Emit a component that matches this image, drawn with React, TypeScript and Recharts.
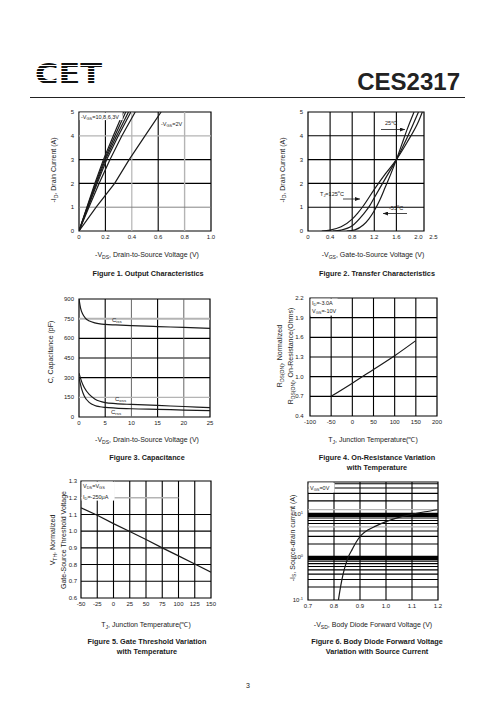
import React from "react"
import { LineChart, Line, XAxis, YAxis, ReferenceLine, ReferenceArea } from "recharts"

const FONT = "'Liberation Sans', Arial, Helvetica, sans-serif"
const INK = "#1a1a1a"
const GRAY = "#b4b4b4"

// Figure 1 - output characteristics (-VDS in V, -ID in A)
const fig1XTicks = [0, 0.2, 0.4, 0.6, 0.8, 1.0]
const fig1YTicks = [0, 1, 2, 3, 4, 5]
const fig1Vgs10 = [
  { x: 0, y: 0 }, { x: 0.06, y: 1 }, { x: 0.12, y: 2 }, { x: 0.185, y: 3 }, { x: 0.26, y: 4 }, { x: 0.337, y: 5 },
]
const fig1Vgs8 = [
  { x: 0, y: 0 }, { x: 0.062, y: 1 }, { x: 0.126, y: 2 }, { x: 0.193, y: 3 }, { x: 0.272, y: 4 }, { x: 0.354, y: 5 },
]
const fig1Vgs6 = [
  { x: 0, y: 0 }, { x: 0.065, y: 1 }, { x: 0.132, y: 2 }, { x: 0.2, y: 3 }, { x: 0.285, y: 4 }, { x: 0.375, y: 5 },
]
const fig1Vgs4 = [
  { x: 0, y: 0 }, { x: 0.068, y: 1 }, { x: 0.138, y: 2 }, { x: 0.21, y: 3 }, { x: 0.298, y: 4 }, { x: 0.393, y: 5 },
]
const fig1Vgs3 = [
  { x: 0, y: 0 }, { x: 0.075, y: 1 }, { x: 0.152, y: 2 }, { x: 0.235, y: 3 }, { x: 0.325, y: 4 }, { x: 0.426, y: 5 },
]
const fig1Vgs2 = [
  { x: 0, y: 0 }, { x: 0.13, y: 1 }, { x: 0.27, y: 2 }, { x: 0.38, y: 3 }, { x: 0.5, y: 4 }, { x: 0.622, y: 5 },
]

// Figure 2 - transfer characteristics (-VGS in V, -ID in A)
const fig2XTicks = [0, 0.4, 0.8, 1.2, 1.6, 2.0]
const fig2YTicks = [0, 1, 2, 3, 4, 5]
const fig2T125 = [
  { x: 0.25, y: 0 }, { x: 0.4, y: 0.04 }, { x: 0.6, y: 0.18 }, { x: 0.8, y: 0.5 }, { x: 0.9, y: 0.75 },
  { x: 1.0, y: 1.05 }, { x: 1.2, y: 1.75 }, { x: 1.4, y: 2.4 }, { x: 1.6, y: 3.0 }, { x: 1.8, y: 3.75 },
  { x: 2.0, y: 4.6 }, { x: 2.07, y: 5.0 },
]
const fig2T25 = [
  { x: 0.45, y: 0 }, { x: 0.6, y: 0.04 }, { x: 0.8, y: 0.22 }, { x: 1.0, y: 0.7 }, { x: 1.1, y: 1.0 },
  { x: 1.2, y: 1.4 }, { x: 1.4, y: 2.2 }, { x: 1.6, y: 3.0 }, { x: 1.8, y: 3.95 }, { x: 2.0, y: 5.0 },
]
const fig2Tm55 = [
  { x: 0.7, y: 0 }, { x: 0.85, y: 0.05 }, { x: 1.0, y: 0.25 }, { x: 1.1, y: 0.5 }, { x: 1.2, y: 0.85 },
  { x: 1.3, y: 1.3 }, { x: 1.4, y: 1.85 }, { x: 1.5, y: 2.4 }, { x: 1.6, y: 3.0 }, { x: 1.7, y: 3.65 },
  { x: 1.8, y: 4.3 }, { x: 1.92, y: 5.0 },
]

// Figure 3 - capacitance (-VDS in V, C in pF)
const fig3XTicks = [0, 5, 10, 15, 20, 25]
const fig3YTicks = [0, 150, 300, 450, 600, 750, 900]
const fig3Ciss = [
  { x: 0, y: 900 }, { x: 0.3, y: 830 }, { x: 0.7, y: 785 }, { x: 1.2, y: 755 }, { x: 2, y: 732 }, { x: 3, y: 718 },
  { x: 4, y: 710 }, { x: 5, y: 706 }, { x: 7, y: 702 }, { x: 10, y: 697 }, { x: 15, y: 690 }, { x: 20, y: 683 },
  { x: 25, y: 676 },
]
const fig3Coss = [
  { x: 0, y: 335 }, { x: 0.5, y: 270 }, { x: 1, y: 225 }, { x: 2, y: 170 }, { x: 3, y: 138 }, { x: 4, y: 120 },
  { x: 5, y: 110 }, { x: 7, y: 102 }, { x: 10, y: 96 }, { x: 15, y: 88 }, { x: 20, y: 80 }, { x: 25, y: 72 },
]
const fig3Crss = [
  { x: 0, y: 300 }, { x: 0.5, y: 215 }, { x: 1, y: 160 }, { x: 2, y: 110 }, { x: 3, y: 88 }, { x: 4, y: 78 },
  { x: 5, y: 73 }, { x: 7, y: 68 }, { x: 10, y: 63 }, { x: 15, y: 58 }, { x: 20, y: 53 }, { x: 25, y: 48 },
]

// Figure 4 - normalized on-resistance vs junction temperature
const fig4XTicks = [-100, -50, 0, 50, 100, 150, 200]
const fig4YTicks = [0.4, 0.7, 1.0, 1.3, 1.6, 1.9, 2.2]
const fig4Rds = [
  { x: -50, y: 0.7 }, { x: 0, y: 0.9 }, { x: 50, y: 1.11 }, { x: 100, y: 1.32 }, { x: 150, y: 1.55 },
]

// Figure 5 - normalized gate threshold vs junction temperature
const fig5XTicks = [-50, -25, 0, 25, 50, 75, 100, 125, 150]
const fig5YTicks = [0.6, 0.7, 0.8, 0.9, 1.0, 1.1, 1.2, 1.3]
const fig5Vth = [
  { x: -50, y: 1.14 }, { x: -25, y: 1.095 }, { x: 0, y: 1.045 }, { x: 25, y: 0.998 }, { x: 50, y: 0.95 },
  { x: 75, y: 0.9 }, { x: 100, y: 0.852 }, { x: 125, y: 0.803 }, { x: 150, y: 0.755 },
]

// Figure 6 - body diode forward voltage (-VSD in V, -IS in A, log)
const fig6XTicks = [0.7, 0.8, 0.9, 1.0, 1.1, 1.2]
const fig6YTicks = [0.1, 1, 10]
const fig6MinorY = [0.2, 0.3, 0.4, 0.5, 0.6, 0.7, 0.8, 2, 3, 4, 6, 7, 8, 20, 30, 40, 50]
const fig6HeavyY = [0.9, 1, 9, 10]
const fig6GrayY = [5, 12.5]
const fig6Is = [
  { x: 0.817, y: 0.1 }, { x: 0.825, y: 0.2 }, { x: 0.835, y: 0.4 }, { x: 0.846, y: 0.7 }, { x: 0.855, y: 1.0 },
  { x: 0.87, y: 1.5 }, { x: 0.885, y: 2.2 }, { x: 0.905, y: 3.2 }, { x: 0.93, y: 4.2 }, { x: 0.96, y: 5.2 },
  { x: 1.0, y: 6.6 }, { x: 1.05, y: 8.3 }, { x: 1.1, y: 9.8 }, { x: 1.15, y: 11.2 }, { x: 1.2, y: 12.5 },
]

const tickStyle = { fontSize: 6, fill: INK, fontFamily: FONT }
const oneDec = (v: number) => (v === 0 ? "0" : v.toFixed(1))

function Frame({ plot, xDomain, yDomain, xTicks, yTicks, xFmt, yFmt, xTick, yTick, yGap = 5, log, gridX, gridY, children }: any) {
  const [l, t, r, b] = plot
  const padL = 40
  const padT = 6
  const padR = 14
  const padB = 16
  return (
    <div style={{ position: "absolute", left: l - padL, top: t - padT }}>
      <LineChart
        width={r - l + padL + padR}
        height={b - t + padT + padB}
        margin={{ top: padT, right: padR, bottom: 0, left: 0 }}
      >
        <XAxis
          type="number"
          dataKey="x"
          domain={xDomain}
          ticks={xTicks}
          interval={0}
          allowDataOverflow
          height={padB}
          axisLine={false}
          tickLine={false}
          tickSize={0}
          tickMargin={4}
          tick={xTick || tickStyle}
          tickFormatter={xFmt}
        />
        <YAxis
          type="number"
          dataKey="y"
          domain={yDomain}
          ticks={yTicks}
          scale={log ? "log" : "auto"}
          interval={0}
          allowDataOverflow
          width={padL}
          axisLine={false}
          tickLine={false}
          tickSize={0}
          tickMargin={yGap}
          tick={yTick || tickStyle}
          tickFormatter={yFmt}
        />
        {gridX.map((v: number) => (
          <ReferenceLine key={"gx" + v} x={v} stroke="#000" strokeWidth={1.1} />
        ))}
        {gridY.map((v: number) => (
          <ReferenceLine key={"gy" + v} y={v} stroke="#000" strokeWidth={1.1} />
        ))}
        {children}
        <ReferenceArea
          x1={xDomain[0]}
          x2={xDomain[1]}
          y1={yDomain[0]}
          y2={yDomain[1]}
          fill="none"
          fillOpacity={0}
          stroke="#000"
          strokeWidth={1.2}
        />
      </LineChart>
    </div>
  )
}

function curve(data: any[], key: string, smooth = true) {
  return (
    <Line
      key={key}
      data={data}
      dataKey="y"
      type={smooth ? "monotone" : "linear"}
      stroke={INK}
      strokeWidth={1.2}
      dot={false}
      isAnimationActive={false}
    />
  )
}

// rich text: [text, "n" | "s" | "p"] for normal, subscript, superscript
function Rich({ parts, size }: any) {
  let shift = 0
  return parts.map(([s, k]: any, i: number) => {
    const target = k === "s" ? size * 0.25 : k === "p" ? -size * 0.4 : 0
    const dy = target - shift
    shift = target
    return (
      <tspan key={i} dy={dy} fontSize={k === "n" ? size : size * 0.72}>
        {s}
      </tspan>
    )
  })
}

function Txt({ x, y, parts, size = 7, anchor = "middle", bold = false, rotate = false }: any) {
  return (
    <text
      x={x}
      y={y}
      transform={rotate ? `rotate(-90 ${x} ${y})` : undefined}
      textAnchor={anchor}
      fontFamily={FONT}
      fontWeight={bold ? "bold" : "normal"}
      fontSize={size}
      fill={INK}
    >
      <Rich parts={parts} size={size} />
    </text>
  )
}

function Fig2XTick({ x, y, payload }: any) {
  const v = payload.value
  return (
    <g>
      <text x={x} y={y} dy="0.71em" textAnchor="middle" {...tickStyle}>
        {oneDec(v)}
      </text>
      {v === 2.0 && (
        <text x={x + 15} y={y} dy="0.71em" textAnchor="middle" {...tickStyle}>
          2.5
        </text>
      )}
    </g>
  )
}

function Fig6YTick({ x, y, payload }: any) {
  const exp = Math.round(Math.log10(payload.value))
  return (
    <text x={x} y={y} dy="0.355em" textAnchor="end" {...tickStyle}>
      10
      <tspan dy={-2.5} fontSize={4}>
        {exp}
      </tspan>
    </text>
  )
}

export default function App() {
  return (
    <div style={{ position: "absolute", left: 0, top: 0, width: 496, height: 723, background: "#fff", overflow: "hidden" }}>
      <Frame
        plot={[79, 112, 211, 231]}
        xDomain={[0, 1]}
        yDomain={[0, 5]}
        xTicks={fig1XTicks}
        yTicks={fig1YTicks}
        xFmt={oneDec}
        gridX={[0.2, 0.6]}
        gridY={[2, 3]}
      >
        <ReferenceLine x={0.4} stroke={GRAY} strokeWidth={1.2} />
        <ReferenceLine x={0.8} stroke={GRAY} strokeWidth={1.4} />
        <ReferenceLine y={1} stroke="#777" strokeWidth={0.9} />
        <ReferenceLine y={4} stroke={GRAY} strokeWidth={1.2} />
        {curve(fig1Vgs10, "10", false)}
        {curve(fig1Vgs8, "8", false)}
        {curve(fig1Vgs6, "6", false)}
        {curve(fig1Vgs4, "4", false)}
        {curve(fig1Vgs3, "3", false)}
        {curve(fig1Vgs2, "2", false)}
      </Frame>

      <Frame
        plot={[308, 112, 424, 231]}
        xDomain={[0, 2.1]}
        yDomain={[0, 5]}
        xTicks={fig2XTicks}
        yTicks={fig2YTicks}
        xTick={<Fig2XTick />}
        gridX={[0.4, 0.8, 1.2, 1.6]}
        gridY={[1, 2, 3, 4]}
      >
        {curve(fig2T125, "t125")}
        {curve(fig2T25, "t25")}
        {curve(fig2Tm55, "tm55")}
      </Frame>

      <Frame
        plot={[79, 299, 210, 417]}
        xDomain={[0, 25]}
        yDomain={[0, 900]}
        xTicks={fig3XTicks}
        yTicks={fig3YTicks}
        gridX={[5, 15]}
        gridY={[300, 450, 600]}
      >
        <ReferenceLine x={10} stroke="#666" strokeWidth={1} />
        <ReferenceLine x={20} stroke="#666" strokeWidth={1} />
        <ReferenceLine y={150} stroke={GRAY} strokeWidth={1.2} />
        <ReferenceLine y={750} stroke={GRAY} strokeWidth={2} />
        {curve(fig3Ciss, "ciss")}
        {curve(fig3Coss, "coss")}
        {curve(fig3Crss, "crss")}
      </Frame>

      <Frame
        plot={[310, 298, 437, 416]}
        xDomain={[-100, 200]}
        yDomain={[0.4, 2.2]}
        xTicks={fig4XTicks}
        yTicks={fig4YTicks}
        yFmt={(v: number) => v.toFixed(1)}
        yGap={6.5}
        gridX={[-50, 0, 50, 100, 150]}
        gridY={[0.7, 1.0, 1.3, 1.6, 1.9]}
      >
        {curve(fig4Rds, "rds")}
      </Frame>

      <Frame
        plot={[81, 481, 211, 598]}
        xDomain={[-50, 150]}
        yDomain={[0.6, 1.3]}
        xTicks={fig5XTicks}
        yTicks={fig5YTicks}
        yFmt={(v: number) => v.toFixed(1)}
        yGap={4}
        gridX={[-25, 0, 25, 50, 75, 100, 125]}
        gridY={[0.7, 0.8, 0.9, 1.0, 1.1]}
      >
        <ReferenceLine segment={[{ x: -50, y: 1.2 }, { x: 100, y: 1.2 }]} stroke={GRAY} strokeWidth={1.4} />
        {curve(fig5Vth, "vth", false)}
      </Frame>

      <Frame
        plot={[308, 482, 438, 600]}
        xDomain={[0.7, 1.2]}
        yDomain={[0.1, 55]}
        log
        xTicks={fig6XTicks}
        yTicks={fig6YTicks}
        xFmt={(v: number) => v.toFixed(1)}
        yTick={<Fig6YTick />}
        gridX={[0.8, 0.9, 1.0, 1.1]}
        gridY={fig6MinorY}
      >
        {fig6HeavyY.map((v) => (
          <ReferenceLine key={"h" + v} y={v} stroke="#000" strokeWidth={2.2} />
        ))}
        {fig6GrayY.map((v) => (
          <ReferenceLine key={"g" + v} y={v} stroke={GRAY} strokeWidth={1.2} />
        ))}
        {curve(fig6Is, "is")}
      </Frame>

      <svg width={496} height={723} style={{ position: "absolute", left: 0, top: 0, pointerEvents: "none" }}>
        <defs>
          <pattern id="stripes" width="6" height="3" patternUnits="userSpaceOnUse">
            <rect width="6" height="2" fill="#111" />
          </pattern>
          <marker id="arrow" markerWidth="5" markerHeight="4" refX="5" refY="2" orient="auto" markerUnits="userSpaceOnUse">
            <path d="M0,0 L5,2 L0,4 z" fill={INK} />
          </marker>
        </defs>

        {/* header */}
        <text x={35} y={84} fontSize={28} fontWeight="bold" fontFamily="'DejaVu Sans', sans-serif" textLength={67} lengthAdjust="spacingAndGlyphs" fill="url(#stripes)">
          CET
        </text>
        <text x={460} y={90} fontSize={24} fontWeight="bold" fontFamily={FONT} textAnchor="end" fill="#222">
          CES2317
        </text>
        <line x1={30} y1={97.5} x2={465} y2={97.5} stroke="#222" strokeWidth={1} />

        {/* figure 1 */}
        <rect x={79.6} y={112.6} width={43} height={7.5} fill="#fff" />
        <Txt x={81} y={118.5} size={5.5} anchor="start" parts={[["-V", "n"], ["GS", "s"], ["=10,8,6,3V", "n"]]} />
        <Txt x={161} y={125.5} size={5.5} anchor="start" parts={[["-V", "n"], ["GS", "s"], ["=2V", "n"]]} />
        <Txt x={56} y={170} rotate parts={[["-I", "n"], ["D", "s"], [", Drain Current (A)", "n"]]} />
        <Txt x={147} y={257} parts={[["-V", "n"], ["DS", "s"], [", Drain-to-Source Voltage (V)", "n"]]} />
        <Txt x={148} y={276} size={7.3} bold parts={[["Figure 1. Output Characteristics", "n"]]} />

        {/* figure 2 */}
        <Txt x={385} y={125} size={5.5} anchor="start" parts={[["25", "n"], ["o", "p"], ["C", "n"]]} />
        <line x1={381} y1={129.5} x2={405} y2={129.5} stroke={INK} strokeWidth={0.8} markerEnd="url(#arrow)" />
        <Txt x={320} y={195.5} size={5.5} anchor="start" parts={[["T", "n"], ["J", "s"], ["=125", "n"], ["o", "p"], ["C", "n"]]} />
        <line x1={343} y1={199} x2={360} y2={199} stroke={INK} strokeWidth={0.8} markerEnd="url(#arrow)" />
        <Txt x={389} y={209.5} size={5.5} anchor="start" parts={[["-55", "n"], ["o", "p"], ["C", "n"]]} />
        <line x1={407} y1={213.5} x2={383} y2={213.5} stroke={INK} strokeWidth={0.8} markerEnd="url(#arrow)" />
        <Txt x={284.5} y={170} rotate parts={[["-I", "n"], ["D", "s"], [", Drain Current (A)", "n"]]} />
        <Txt x={373} y={257} parts={[["-V", "n"], ["GS", "s"], [", Gate-to-Source Voltage (V)", "n"]]} />
        <Txt x={377} y={276} size={7.3} bold parts={[["Figure 2. Transfer Characteristics", "n"]]} />

        {/* figure 3 */}
        <Txt x={112} y={321.5} size={6} anchor="start" parts={[["C", "n"], ["iss", "s"]]} />
        <Txt x={115} y={400.5} size={6} anchor="start" parts={[["C", "n"], ["oss", "s"]]} />
        <Txt x={111} y={413.5} size={6} anchor="start" parts={[["C", "n"], ["rss", "s"]]} />
        <Txt x={52.5} y={352} rotate parts={[["C, Capacitance (pF)", "n"]]} />
        <Txt x={147} y={442} parts={[["-V", "n"], ["DS", "s"], [", Drain-to-Source Voltage (V)", "n"]]} />
        <Txt x={147} y={460} size={7.3} bold parts={[["Figure 3. Capacitance", "n"]]} />

        {/* figure 4 */}
        <rect x={310.6} y={298.6} width={27} height={17} fill="#fff" />
        <Txt x={312} y={304.5} size={5.5} anchor="start" parts={[["I", "n"], ["D", "s"], ["=-3.0A", "n"]]} />
        <Txt x={312} y={313} size={5.5} anchor="start" parts={[["V", "n"], ["GS", "s"], ["=-10V", "n"]]} />
        <Txt x={282} y={356} rotate parts={[["R", "n"], ["DS(ON)", "s"], [", Normalized", "n"]]} />
        <Txt x={293} y={356} rotate parts={[["R", "n"], ["DS(ON)", "s"], [", On-Resistance(Ohms)", "n"]]} />
        <Txt x={373} y={442} parts={[["T", "n"], ["J", "s"], [", Junction Temperature(\u2103)", "n"]]} />
        <Txt x={377} y={460} size={7.3} bold parts={[["Figure 4. On-Resistance Variation", "n"]]} />
        <Txt x={377} y={469.5} size={7.3} bold parts={[["with Temperature", "n"]]} />

        {/* figure 5 */}
        <rect x={81.6} y={481.6} width={33} height={19} fill="#fff" />
        <Txt x={83} y={488} size={5.5} anchor="start" parts={[["V", "n"], ["DS", "s"], ["=V", "n"], ["GS", "s"]]} />
        <Txt x={83} y={498.5} size={5.5} anchor="start" parts={[["I", "n"], ["D", "s"], ["=-250\u03bcA", "n"]]} />
        <Txt x={55} y={540} rotate parts={[["V", "n"], ["TH", "s"], [", Normalized", "n"]]} />
        <Txt x={66} y={540} rotate parts={[["Gate-Source Threshold Voltage", "n"]]} />
        <Txt x={146} y={627} parts={[["T", "n"], ["J", "s"], [", Junction Temperature(\u2103)", "n"]]} />
        <Txt x={147} y={644} size={7.3} bold parts={[["Figure 5. Gate Threshold Variation", "n"]]} />
        <Txt x={147} y={654} size={7.3} bold parts={[["with Temperature", "n"]]} />

        {/* figure 6 */}
        <rect x={308.6} y={482.6} width={26} height={10} fill="#fff" />
        <Txt x={310} y={489.5} size={5.5} anchor="start" parts={[["V", "n"], ["GS", "s"], ["=0V", "n"]]} />
        <Txt x={294.5} y={538} rotate parts={[["-I", "n"], ["S", "s"], [", Source-drain current (A)", "n"]]} />
        <Txt x={373} y={627} parts={[["-V", "n"], ["SD", "s"], [", Body Diode Forward Voltage (V)", "n"]]} />
        <Txt x={377} y={644} size={7.3} bold parts={[["Figure 6. Body Diode Forward Voltage", "n"]]} />
        <Txt x={377} y={654} size={7.3} bold parts={[["Variation with Source Current", "n"]]} />

        <Txt x={248} y={688} parts={[["3", "n"]]} />
      </svg>
    </div>
  )
}
